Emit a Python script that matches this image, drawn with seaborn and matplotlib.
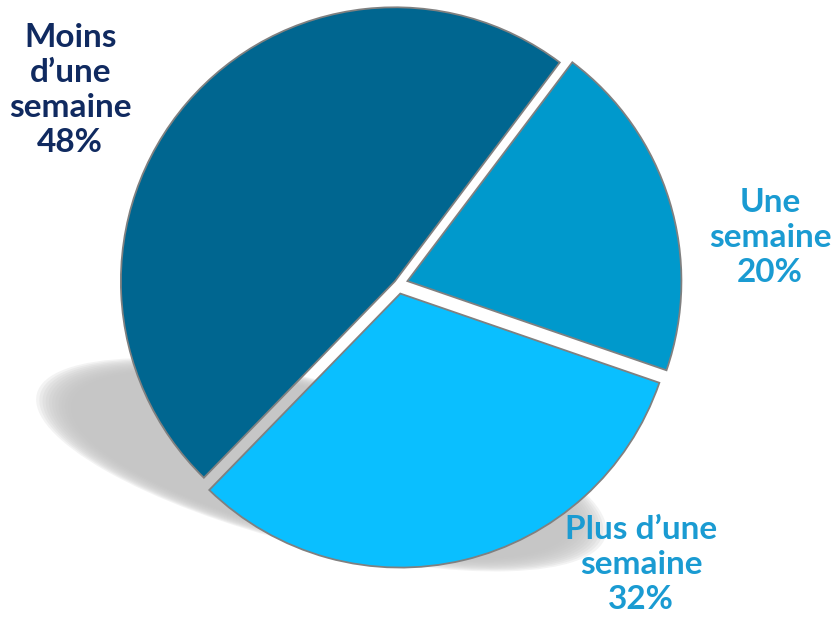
import numpy as np
import matplotlib
matplotlib.use('Agg')
import matplotlib.pyplot as plt
import seaborn as sns
from matplotlib.patches import Ellipse

sns.set_theme(style='white')
plt.rcParams['font.family'] = ['Lato', 'DejaVu Sans']

# donnees (ordre dans le sens anti-horaire)
categories = ['Moins\nd\u2019une\nsemaine', 'Plus d\u2019une\nsemaine', 'Une\nsemaine']
valeurs = [48, 32, 20]
couleurs = ['#006690', '#0ABFFF', '#0099CC']
couleurs_txt = ['#102A60', '#1A9BD2', '#1A9BD2']
explode = [0.015, 0.036, 0.036]
# position des etiquettes (rayon, angle en degres)
pos_labels = [(1.39, 149.4), (1.355, -49.1), (1.368, 7.05)]

fig = plt.figure(figsize=(8.32, 6.2), dpi=100)
ax = fig.add_axes([0, 0, 1, 1])

# ombre floue sous le camembert
for i in range(12):
    k = 1.07 - i * 0.012
    ax.add_patch(Ellipse((-0.28, -0.66), 2.0 * k, 0.56 * k, angle=-14,
                         color='#C4C4C4', alpha=0.2, lw=0, zorder=0))

wedges, _ = ax.pie(valeurs, colors=couleurs, explode=explode, startangle=53,
                   counterclock=True,
                   wedgeprops=dict(edgecolor='#808080', linewidth=1.3))
for w in wedges:
    w.set_zorder(2)

for lab, v, c, (r, a) in zip(categories, valeurs, couleurs_txt, pos_labels):
    x = r * np.cos(np.radians(a))
    y = r * np.sin(np.radians(a))
    ax.text(x, y, f'{lab}\n{v}%', ha='center', va='center', fontsize=24,
            fontweight='bold', color=c, linespacing=1.25, zorder=3)

ax.set_xlim(-1.4526, 1.584)
ax.set_ylim(-1.226, 1.036)
ax.set_aspect('equal')
ax.axis('off')

plt.savefig('out.png', dpi=100)
